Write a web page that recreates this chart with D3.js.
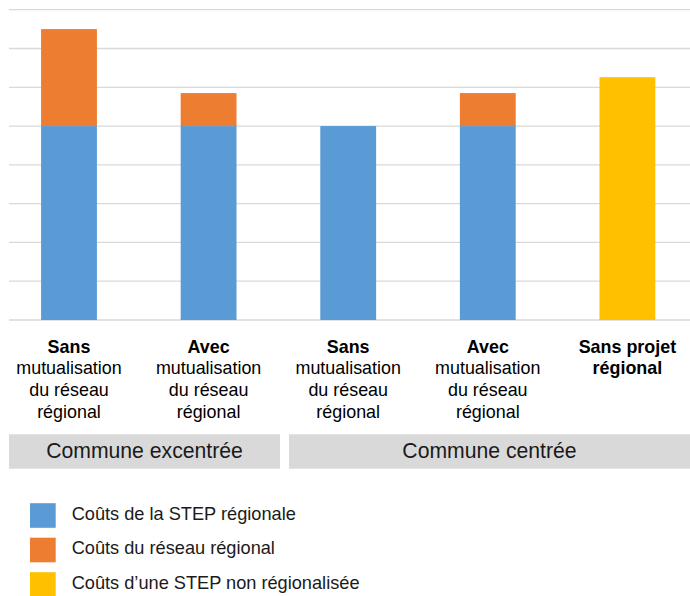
<!DOCTYPE html>
<html><head><meta charset="utf-8">
<script src="https://cdn.jsdelivr.net/npm/d3@7"></script>
<style>body{margin:0;background:#fff}svg{display:block;font-family:"Liberation Sans",Arial,Helvetica,sans-serif}</style>
</head><body><svg id="c" width="690" height="596"></svg>
<script>
const categories = ["c1","c2","c3","c4","c5"];
const boldLines = [["Sans"],["Avec"],["Sans"],["Avec"],["Sans projet","régional"]];
const normalLines = [["mutualisation","du réseau","régional"],["mutualisation","du réseau","régional"],["mutualisation","du réseau","régional"],["mutualisation","du réseau","régional"],[]];
const stepRegionale = [5, 5, 5, 5, 0];
const reseauRegional = [2.5, 0.85, 0, 0.85, 0];
const stepNonRegionalisee = [0, 0, 0, 0, 6.26];
const yTicks = [0,1,2,3,4,5,6,7,8];
const groups = [{name:"Commune excentrée", from:0, to:1},{name:"Commune centrée", from:2, to:4}];
const seriesNames = ["Coûts de la STEP régionale","Coûts du réseau régional","Coûts d\u2019une STEP non régionalisée"];
const colors = ["#5B9BD5","#ED7D31","#FFC000"];

const svg = d3.select("#c");
const x = d3.scaleBand().domain(categories).range([-0.8, 697.2]).paddingInner(0.6).paddingOuter(0.3);
const y = d3.scaleLinear().domain([0,8]).range([320, 9.7]);

// gridlines
svg.append("g").selectAll("line").data(yTicks).join("line")
  .attr("x1",9).attr("x2",690).attr("y1",d=>y(d)).attr("y2",d=>y(d))
  .attr("stroke","#d9d9d9").attr("stroke-width",1.3);

const table = categories.map((c,i)=>({cat:c, a:stepRegionale[i], b:reseauRegional[i], c:stepNonRegionalisee[i]}));
const stacked = d3.stack().keys(["a","b","c"])(table);
svg.append("g").selectAll("g").data(stacked).join("g").attr("fill",(d,i)=>colors[i])
  .selectAll("rect").data(d=>d.filter(p=>p[1]-p[0]>0)).join("rect")
  .attr("x",d=>x(d.data.cat)).attr("width",x.bandwidth())
  .attr("y",d=>y(d[1])).attr("height",d=>y(d[0])-y(d[1]));

// category labels
const lab = svg.append("g").attr("font-size","17.9px").attr("fill","#000").attr("text-anchor","middle");
categories.forEach((c,i)=>{
  const cx = x(c)+x.bandwidth()/2;
  const lines = boldLines[i].map(t=>({t,b:true})).concat(normalLines[i].map(t=>({t,b:false})));
  lines.forEach((l,j)=>{
    lab.append("text").attr("x",cx).attr("y",352.5+j*21.8)
      .attr("font-weight",l.b?"bold":"normal").text(l.t);
  });
});

// group bands
const gx = [[9,280],[289,690]];
groups.forEach((g,i)=>{
  svg.append("rect").attr("x",gx[i][0]).attr("y",434.3).attr("width",gx[i][1]-gx[i][0]).attr("height",34.4).attr("fill","#d9d9d9");
  svg.append("text").attr("x",(gx[i][0]+gx[i][1])/2).attr("y",458).attr("text-anchor","middle")
    .attr("font-size","21.2px").attr("fill","#1a1a1a").text(g.name);
});

// legend
const leg = svg.append("g");
seriesNames.forEach((n,i)=>{
  const cy = 515.5 + i*34.5;
  leg.append("rect").attr("x",30).attr("y",cy-12.3).attr("width",25.7).attr("height",24.6).attr("fill",colors[i]);
  leg.append("text").attr("x",71.7).attr("y",cy+4.2).attr("font-size","18.2px").attr("fill","#1a1a1a").text(n);
});
</script></body></html>
